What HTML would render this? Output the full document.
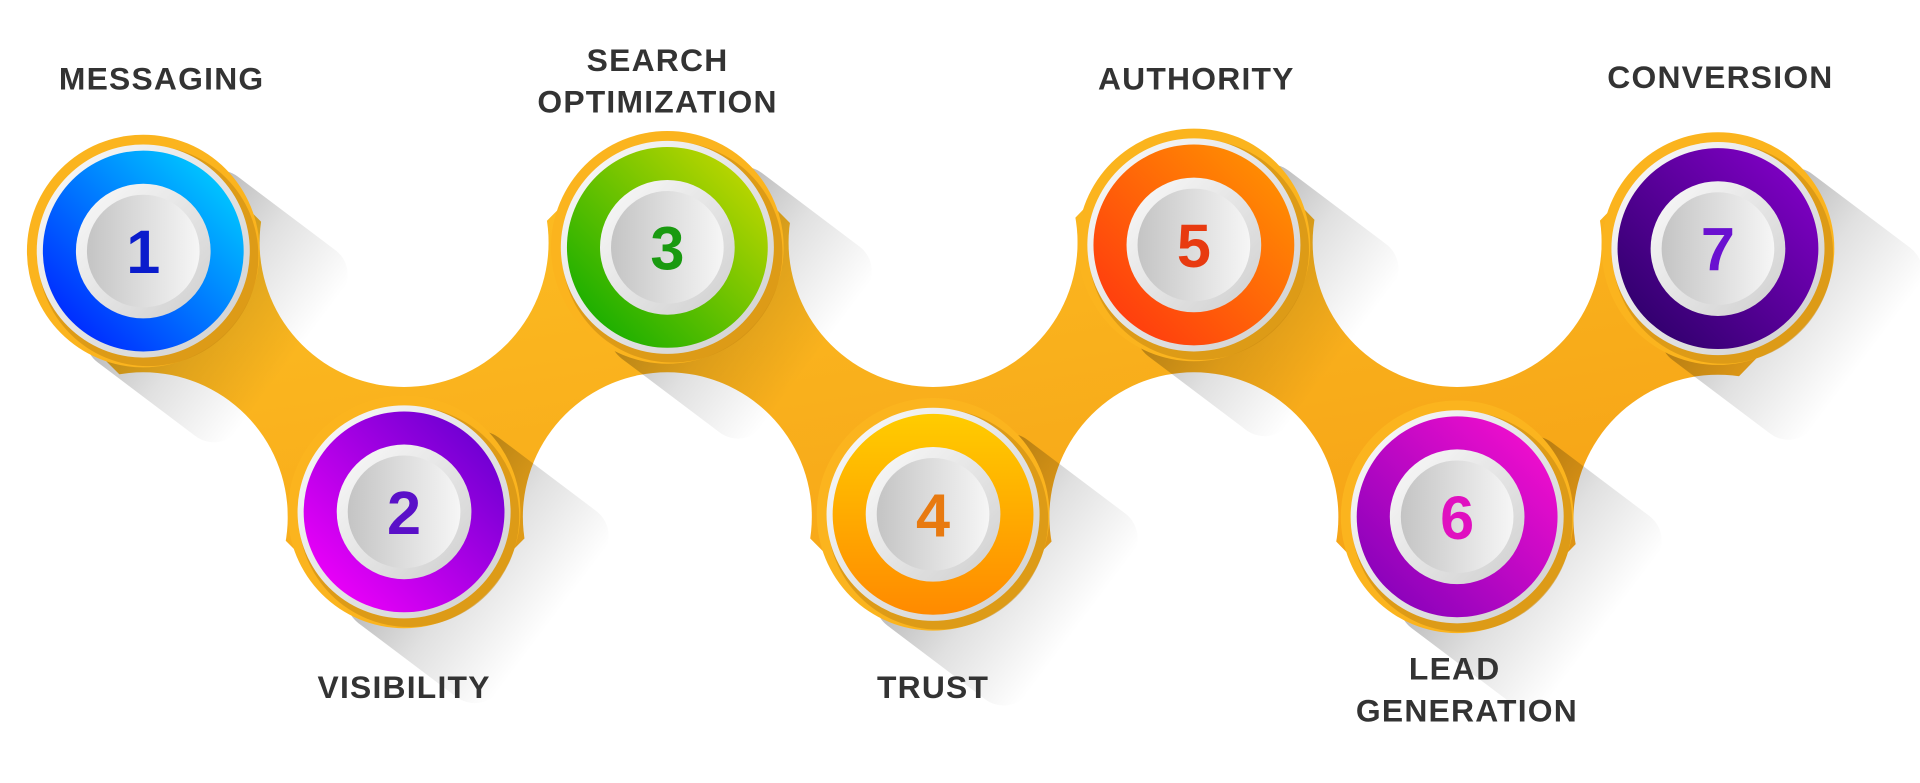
<!DOCTYPE html>
<html><head><meta charset="utf-8"><style>
html,body{margin:0;padding:0;background:#fff;}
svg{display:block}
text{font-family:"Liberation Sans",Arial,sans-serif;font-weight:bold;}
</style></head><body>
<svg width="1920" height="783" viewBox="0 0 1568 639.4" preserveAspectRatio="none" xmlns="http://www.w3.org/2000/svg">
<defs>
<linearGradient id="sh" x1="0" y1="0" x2="1" y2="0"><stop offset="0" stop-color="#000" stop-opacity="0.3"/><stop offset="0.5" stop-color="#000" stop-opacity="0.12"/><stop offset="1" stop-color="#000" stop-opacity="0"/></linearGradient>
<linearGradient id="org" x1="0" y1="0" x2="1" y2="1"><stop offset="0" stop-color="#fcbc22"/><stop offset="1" stop-color="#f6a316"/></linearGradient>
<linearGradient id="inner" x1="0" y1="0" x2="1" y2="0"><stop offset="0" stop-color="#c4c4c4"/><stop offset="1" stop-color="#f6f6f6"/></linearGradient>
<linearGradient id="rim" x1="0" y1="0" x2="1" y2="1"><stop offset="0" stop-color="#fafafa"/><stop offset="1" stop-color="#cfcfcf"/></linearGradient>
<linearGradient id="g1" x1="1" y1="0" x2="0" y2="1"><stop offset="0" stop-color="#00e0ff"/><stop offset="1" stop-color="#0010ff"/></linearGradient>
<linearGradient id="g2" x1="1" y1="0" x2="0" y2="1"><stop offset="0" stop-color="#5a00cc"/><stop offset="1" stop-color="#ff00ff"/></linearGradient>
<linearGradient id="g3" x1="1" y1="0" x2="0" y2="1"><stop offset="0" stop-color="#d4dc00"/><stop offset="1" stop-color="#00a800"/></linearGradient>
<linearGradient id="g4" x1="0.5" y1="0" x2="0.5" y2="1"><stop offset="0" stop-color="#ffcc00"/><stop offset="1" stop-color="#ff8a00"/></linearGradient>
<linearGradient id="g5" x1="1" y1="0" x2="0" y2="1"><stop offset="0" stop-color="#ff9a00"/><stop offset="1" stop-color="#ff3010"/></linearGradient>
<linearGradient id="g6" x1="1" y1="0" x2="0" y2="1"><stop offset="0" stop-color="#ff10d0"/><stop offset="1" stop-color="#7a00b8"/></linearGradient>
<linearGradient id="g7" x1="1" y1="0" x2="0" y2="1"><stop offset="0" stop-color="#8a00d0"/><stop offset="1" stop-color="#250060"/></linearGradient>
</defs>

<polyline points="117,205 330,418 545,202 762,420 975,200 1190,422 1403,203" fill="none" stroke="url(#org)" stroke-width="170" stroke-linejoin="round"/>
<g fill="#fff">
<circle cx="330" cy="198" r="118"/><circle cx="762" cy="198" r="118"/><circle cx="1190" cy="198" r="118"/>
<circle cx="117" cy="422" r="118"/><circle cx="545" cy="422" r="118"/><circle cx="975" cy="422" r="118"/><circle cx="1403" cy="424" r="118"/>
</g>
<g fill="url(#sh)">
<rect x="0" y="-95" width="150" height="190" rx="25" transform="translate(117,205) rotate(37)"/>
<rect x="0" y="-95" width="150" height="190" rx="25" transform="translate(330,418) rotate(37)"/>
<rect x="0" y="-95" width="150" height="190" rx="25" transform="translate(545,202) rotate(37)"/>
<rect x="0" y="-95" width="150" height="190" rx="25" transform="translate(762,420) rotate(37)"/>
<rect x="0" y="-95" width="150" height="190" rx="25" transform="translate(975,200) rotate(37)"/>
<rect x="0" y="-95" width="150" height="190" rx="25" transform="translate(1190,422) rotate(37)"/>
<rect x="0" y="-95" width="150" height="190" rx="25" transform="translate(1403,203) rotate(37)"/>
</g>

<g font-family="DejaVu Sans, sans-serif">
<g transform="translate(117,205)"><circle r="95" fill="#fbb41e"/><circle cx="4" cy="4" r="90" fill="#c98a12" opacity="0.6"/><circle r="87" fill="url(#rim)"/><circle r="82" fill="url(#g1)"/><circle r="55" fill="url(#rim)"/><circle r="46" fill="url(#inner)"/><text y="18" text-anchor="middle" font-size="50" fill="#0a1ccc">1</text></g>
<g transform="translate(330,418)"><circle r="95" fill="#fbb41e"/><circle cx="4" cy="4" r="90" fill="#c98a12" opacity="0.6"/><circle r="87" fill="url(#rim)"/><circle r="82" fill="url(#g2)"/><circle r="55" fill="url(#rim)"/><circle r="46" fill="url(#inner)"/><text y="18" text-anchor="middle" font-size="50" fill="#5a10c8">2</text></g>
<g transform="translate(545,202)"><circle r="95" fill="#fbb41e"/><circle cx="4" cy="4" r="90" fill="#c98a12" opacity="0.6"/><circle r="87" fill="url(#rim)"/><circle r="82" fill="url(#g3)"/><circle r="55" fill="url(#rim)"/><circle r="46" fill="url(#inner)"/><text y="18" text-anchor="middle" font-size="50" fill="#1a9a10">3</text></g>
<g transform="translate(762,420)"><circle r="95" fill="#fbb41e"/><circle cx="4" cy="4" r="90" fill="#c98a12" opacity="0.6"/><circle r="87" fill="url(#rim)"/><circle r="82" fill="url(#g4)"/><circle r="55" fill="url(#rim)"/><circle r="46" fill="url(#inner)"/><text y="18" text-anchor="middle" font-size="50" fill="#e87a10">4</text></g>
<g transform="translate(975,200)"><circle r="95" fill="#fbb41e"/><circle cx="4" cy="4" r="90" fill="#c98a12" opacity="0.6"/><circle r="87" fill="url(#rim)"/><circle r="82" fill="url(#g5)"/><circle r="55" fill="url(#rim)"/><circle r="46" fill="url(#inner)"/><text y="18" text-anchor="middle" font-size="50" fill="#e83a10">5</text></g>
<g transform="translate(1190,422)"><circle r="95" fill="#fbb41e"/><circle cx="4" cy="4" r="90" fill="#c98a12" opacity="0.6"/><circle r="87" fill="url(#rim)"/><circle r="82" fill="url(#g6)"/><circle r="55" fill="url(#rim)"/><circle r="46" fill="url(#inner)"/><text y="18" text-anchor="middle" font-size="50" fill="#e010c0">6</text></g>
<g transform="translate(1403,203)"><circle r="95" fill="#fbb41e"/><circle cx="4" cy="4" r="90" fill="#c98a12" opacity="0.6"/><circle r="87" fill="url(#rim)"/><circle r="82" fill="url(#g7)"/><circle r="55" fill="url(#rim)"/><circle r="46" fill="url(#inner)"/><text y="18" text-anchor="middle" font-size="50" fill="#6a10d0">7</text></g>
</g>

<g fill="#333" font-size="26" text-anchor="middle" letter-spacing="1">
<text x="132" y="73">MESSAGING</text>
<text x="537" y="58">SEARCH</text>
<text x="537" y="92">OPTIMIZATION</text>
<text x="977" y="73">AUTHORITY</text>
<text x="1405" y="72">CONVERSION</text>
<text x="330" y="570">VISIBILITY</text>
<text x="762" y="570">TRUST</text>
<text x="1188" y="555">LEAD</text>
<text x="1198" y="589">GENERATION</text>
</g>
</svg>
</body></html>
